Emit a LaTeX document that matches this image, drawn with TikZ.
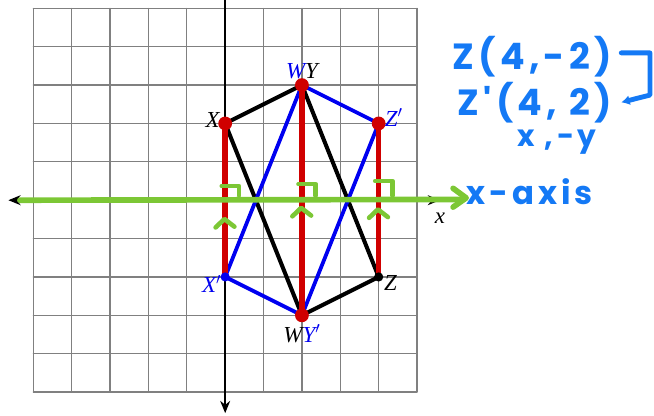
\documentclass[tikz,border=0pt]{standalone}
\usepackage{fontspec}
\setmainfont{Liberation Serif}
\newfontfamily\handfont[LetterSpace=12]{Poppins}
\usetikzlibrary{arrows.meta, positioning, calc}
\definecolor{cblue}{HTML}{0000F0}
\definecolor{cred}{HTML}{D00000}
\definecolor{cgreen}{HTML}{7CC735}
\definecolor{cpen}{HTML}{1479F5}
\definecolor{cgrey}{HTML}{808080}
\tikzset{
  every picture/.style={line cap=round, line join=round},
  gridline/.style={draw=cgrey, line width=0.9pt},
  axis/.style={line width=1.1pt, -{Stealth[length=3.2mm, width=2.6mm]}},
  orig/.style={draw=black, line width=3pt},
  refl/.style={draw=cblue, line width=2.8pt},
  mirror/.style={draw=cred, line width=4.2pt},
  pen/.style={draw=cgreen, line width=4.2pt},
  bracket/.style={draw=cpen, line width=3.6pt, -{Latex[length=2.2mm, width=2.6mm]}},
  hand/.style={font=\handfont\bfseries\fontsize{#1}{#1}\selectfont, text=cpen, inner sep=1pt},
  hand/.default=27,
  lbl/.style={font=\itshape\fontsize{17}{17}\selectfont, inner sep=1pt},
  dot/.style={circle, fill=#1, inner sep=0pt, minimum size=3.6mm},
  smalldot/.style={circle, fill=#1, inner sep=0pt, minimum size=2.4mm},
}
\begin{document}
\begin{tikzpicture}
  \useasboundingbox (-5.869,-5.624) rectangle (11.176,5.218);
  \draw[gridline] (-5,-5) grid (5,5);
  \draw[axis] (0,5.4) -- (0,-5.55);
  \draw[axis, {Stealth[length=3.2mm, width=2.6mm]}-{Stealth[length=3.2mm, width=2.6mm]}] (-5.65,0) -- (5.6,0);
  \node[lbl] (xname) at (5.6,-0.47) {x};
  % vertices and their images
  \coordinate (X) at (0,2);
  \coordinate (Y) at (2,3);
  \coordinate (Z) at (4,-2);
  \coordinate (W) at (2,-3);
  \coordinate (Xp) at (0,-2);
  \coordinate (Yp) at (2,-3);
  \coordinate (Zp) at (4,2);
  \coordinate (Wp) at (2,3);
  \draw[orig] (X) -- (Y) -- (Z) -- (W) -- cycle;
  \draw[refl] (Xp) -- (Yp) -- (Zp) -- (Wp) -- cycle;
  \draw[mirror] (X) -- (Xp);
  \draw[mirror] (Y) -- (Yp);
  \draw[mirror] (Zp) -- (Z);
  \foreach \p in {X, Y, Zp, Yp}
    \node[dot=cred] at (\p) {};
  \node[smalldot=black] at (Z) {};
  \node[smalldot=cblue] at (Xp) {};
  % labels
  \node[lbl, anchor=east] (lx) at ($(X)+(-0.1,0.08)$) {X};
  \node[lbl, anchor=south] (lwy) at ($(Y)+(0,0.12)$) {\textcolor{cblue}{W}Y};
  \node[lbl, anchor=west, text=cblue] (lzp) at ($(Zp)+(0.12,0.15)$) {Z$'$};
  \node[lbl, anchor=east, text=cblue] (lxp) at ($(Xp)+(-0.06,-0.18)$) {X$'$};
  \node[lbl, anchor=west] (lz) at ($(Z)+(0.1,-0.16)$) {Z};
  \node[lbl, anchor=north] (lwyp) at ($(Yp)+(0,-0.2)$) {W\textcolor{cblue}{Y$'$}};
  % green pen: the mirror line and right angles
  \draw[pen] (-5.35,0) -- (6.22,0.02);
  \draw[pen] (5.94,0.31) -- (6.28,0.06) -- (5.94,-0.18);
  \foreach \x/\h in {0/0.37, 2/0.42, 4/0.5}
    \draw[pen, line width=3.4pt] (\x-0.09,\h) -- (\x+0.36,\h) -- (\x+0.36,0.12);
  \foreach \x/\t in {0/-0.49, 2/-0.2, 4/-0.24}
    \draw[pen, line width=3.4pt] (\x-0.25,\t-0.22) -- (\x-0.02,\t) -- (\x+0.24,\t-0.2);
  % blue notes
  \node[hand] (zo) at (8.0,3.74) {Z(4,-2)};
  \node[hand] (zi) at (8.07,2.55) {Z'(4, 2)};
  \node[hand=22] (rule) at (8.65,1.5) {x ,-y};
  \node[hand=24] (xaxis) at (7.94,0.21) {x-axis};
  \draw[bracket] ($(zo.east)+(0.2,0.1)$) -| (11.07,2.74) -- ($(zi.east)+(0.2,0)$);
\end{tikzpicture}
\end{document}
